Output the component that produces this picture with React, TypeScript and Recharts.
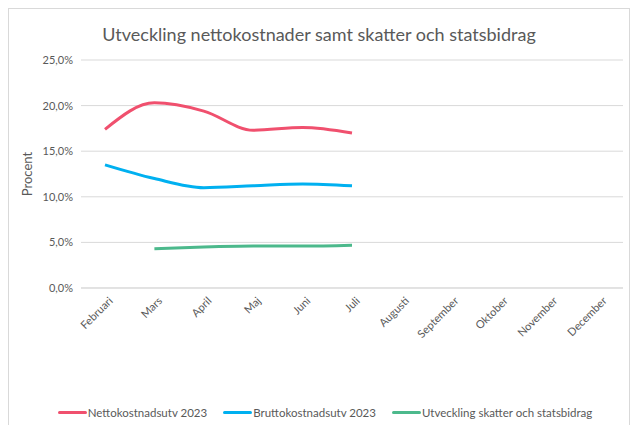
import React from "react";
import { LineChart, Line, XAxis, YAxis, CartesianGrid, Legend } from "recharts";

const months = [
  "Februari", "Mars", "April", "Maj", "Juni", "Juli",
  "Augusti", "September", "Oktober", "November", "December",
];
const netto = [17.4, 20.3, 19.4, 17.3, 17.6, 17.0, null, null, null, null, null];
const brutto = [13.5, 12.0, 11.0, 11.2, 11.4, 11.2, null, null, null, null, null];
const skatter = [null, 4.3, 4.5, 4.6, 4.6, 4.7, null, null, null, null, null];
const yTicks = [0, 5, 10, 15, 20, 25];

const series = [
  { key: "netto", name: "Nettokostnadsutv 2023", color: "#F0506E" },
  { key: "brutto", name: "Bruttokostnadsutv 2023", color: "#00B0F0" },
  { key: "skatter", name: "Utveckling skatter och statsbidrag", color: "#4CB98C" },
];

const data = months.map((m, i) => ({
  month: m,
  netto: netto[i],
  brutto: brutto[i],
  skatter: skatter[i],
}));

const font = "'Lato', 'Open Sans', sans-serif";
const gray = "#595959";

const fmt = (v: number) => `${v.toFixed(1).replace(".", ",")}%`;

const LegendContent = () => (
  <div
    style={{
      display: "flex",
      justifyContent: "center",
      gap: 16,
      paddingLeft: 18,
      fontFamily: font,
      fontSize: 11.5,
      color: gray,
    }}
  >
    {series.map((s) => (
      <div key={s.key} style={{ display: "flex", alignItems: "center" }}>
        <span
          style={{
            display: "inline-block",
            width: 29,
            height: 3,
            borderRadius: 2,
            background: s.color,
            marginRight: 1,
          }}
        />
        {s.name}
      </div>
    ))}
  </div>
);

export default function App() {
  return (
    <div
      style={{
        position: "relative",
        width: 620,
        height: 420,
        border: "1px solid #d9d9d9",
        background: "#fff",
      }}
    >
      <div
        style={{
          position: "absolute",
          top: 14,
          left: 0,
          width: 620,
          textAlign: "center",
          fontFamily: font,
          fontSize: 18,
          color: gray,
        }}
      >
        Utveckling nettokostnader samt skatter och statsbidrag
      </div>
      <LineChart
        width={620}
        height={420}
        data={data}
        margin={{ top: 51, right: 6, left: 0, bottom: 68 }}
      >
        <CartesianGrid vertical={false} stroke="#d9d9d9" />
        <XAxis
          dataKey="month"
          interval={0}
          angle={-45}
          textAnchor="end"
          height={60}
          padding={{ left: 24, right: 24 }}
          tickLine={false}
          axisLine={{ stroke: "#d9d9d9" }}
          tick={{ fontSize: 11, fill: gray, fontFamily: font, dx: 3 }}
        />
        <YAxis
          width={72}
          domain={[0, 25]}
          ticks={yTicks}
          tickFormatter={fmt}
          axisLine={false}
          tickLine={false}
          tick={{ fontSize: 11, fill: gray, fontFamily: font }}
          label={{
            value: "Procent",
            angle: -90,
            position: "insideLeft",
            offset: 18,
            style: { fontSize: 13, fill: gray, fontFamily: font, textAnchor: "middle" },
          }}
        />
        <Legend
          verticalAlign="bottom"
          content={<LegendContent />}
          wrapperStyle={{ bottom: 10 }}
        />
        {series.map((s) => (
          <Line
            key={s.key}
            type="monotone"
            dataKey={s.key}
            name={s.name}
            stroke={s.color}
            strokeWidth={3}
            dot={false}
            isAnimationActive={false}
          />
        ))}
      </LineChart>
    </div>
  );
}
